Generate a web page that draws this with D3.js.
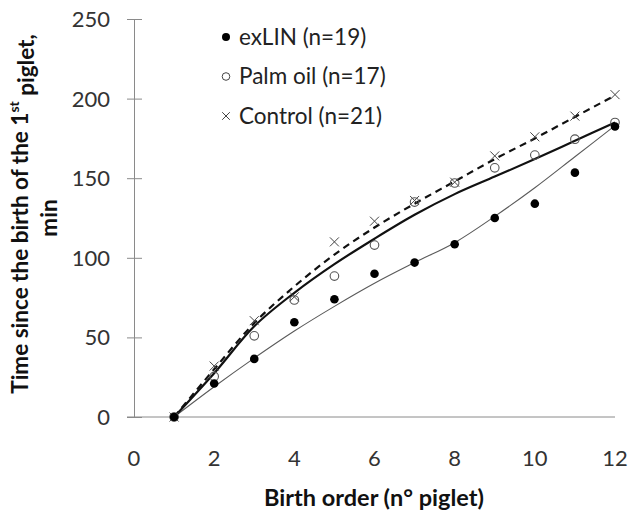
<!DOCTYPE html>
<html>
<head>
<meta charset="utf-8">
<script src="https://cdn.jsdelivr.net/npm/d3@7"></script>
<style>
  html, body { margin: 0; padding: 0; background: #fff; }
  svg { display: block; font-family: Lato, "Open Sans", sans-serif; }
  .tick-label { font-size: 22px; fill: #333; }
  .legend-label { font-size: 22.5px; fill: #222; }
  .axis-title { font-size: 22.5px; font-weight: bold; fill: #111; }
</style>
</head>
<body>
<svg id="chart" width="629" height="511"></svg>
<script>
// ============================================================
// DATA
// ============================================================
const birthOrder = [1, 2, 3, 4, 5, 6, 7, 8, 9, 10, 11, 12];

// observed means
const exLIN   = [0, 21, 36.5, 59.5, 74, 90, 97, 108.5, 125, 134, 153.5, 182.5];
const palmOil = [0, 25.5, 51, 73.5, 88.5, 108, 135, 147, 156.5, 164.5, 174.5, 185];
const control = [0, 32, 60.5, 75.5, 110, 123, 136, 147.5, 164, 176, 189, 202.5];

// fitted curves as drawn in the figure
const exLINFit   = [0, 19, 37, 54, 69.5, 84, 97, 109.5, 126, 144, 163.5, 183];
const palmOilFit = [0, 27.5, 57, 78, 96, 112, 127, 140, 151, 162, 173.5, 185];
const controlFit = [0, 30, 59, 82, 102, 119, 134, 148, 162, 175, 188.5, 202];

const xTicks = [0, 2, 4, 6, 8, 10, 12];
const yTicks = [0, 50, 100, 150, 200, 250];

const legendItems = [
  { label: 'exLIN (n=19)', kind: 'dot' },
  { label: 'Palm oil (n=17)', kind: 'ring' },
  { label: 'Control (n=21)', kind: 'cross' }
];

// ============================================================
// SCALES
// ============================================================
const svg = d3.select('#chart');
const x = d3.scaleLinear().domain([0, 12]).range([134, 615]);
const y = d3.scaleLinear().domain([0, 250]).range([417, 19]);
const axisCol = '#8a8a8a';

// ============================================================
// AXES
// ============================================================
const yAxis = svg.append('g').attr('transform', 'translate(134,0)')
  .call(d3.axisLeft(y).tickValues(yTicks).tickSize(0).tickFormat(''));
yAxis.select('.domain').attr('stroke', axisCol);
yAxis.selectAll('.tick').append('line')
  .attr('x1', -7).attr('x2', 8).attr('stroke', axisCol);

svg.selectAll('.ylab').data(yTicks).enter().append('text')
  .attr('class', 'tick-label')
  .attr('x', 110).attr('y', d => y(d))
  .attr('dy', '0.36em').attr('text-anchor', 'end')
  .text(d => d);

svg.append('line')
  .attr('x1', 127).attr('x2', x(12))
  .attr('y1', y(0)).attr('y2', y(0))
  .attr('stroke', axisCol);

svg.selectAll('.xlab').data(xTicks).enter().append('text')
  .attr('class', 'tick-label')
  .attr('x', d => x(d)).attr('y', 466)
  .attr('text-anchor', 'middle')
  .text(d => d);

svg.append('text').attr('class', 'axis-title')
  .attr('x', 374).attr('y', 506).attr('text-anchor', 'middle')
  .style('font-size', '23.5px')
  .text('Birth order (n\u00b0 piglet)');

const yTitle = svg.append('text').attr('class', 'axis-title')
  .attr('transform', 'translate(28,214) rotate(-90)')
  .attr('text-anchor', 'middle');
yTitle.append('tspan').text('Time since the birth of the 1');
yTitle.append('tspan').attr('font-size', '14px').attr('dy', '-0.65em').text('st');
yTitle.append('tspan').attr('dy', '0.65em').text(' piglet,');

svg.append('text').attr('class', 'axis-title')
  .attr('transform', 'translate(57,218) rotate(-90)')
  .attr('text-anchor', 'middle')
  .text('min');

// ============================================================
// CURVES
// ============================================================
const curve = (vals) => d3.line()
  .x((d, i) => x(birthOrder[i]))
  .y(d => y(d))
  .curve(d3.curveCatmullRom.alpha(0.5))(vals);

svg.append('path').attr('d', curve(exLINFit))
  .attr('fill', 'none').attr('stroke', '#5a5a5a').attr('stroke-width', 1.1);
svg.append('path').attr('d', curve(palmOilFit))
  .attr('fill', 'none').attr('stroke', '#111').attr('stroke-width', 2.2);
svg.append('path').attr('d', curve(controlFit))
  .attr('fill', 'none').attr('stroke', '#111').attr('stroke-width', 2.2)
  .attr('stroke-dasharray', '7,5');

// ============================================================
// MARKERS
// ============================================================
function drawCross(g, cx, cy, s) {
  g.append('path')
    .attr('d', `M${cx - s},${cy - s}L${cx + s},${cy + s}M${cx - s},${cy + s}L${cx + s},${cy - s}`)
    .attr('stroke', '#444').attr('stroke-width', 1).attr('fill', 'none');
}

const marks = svg.append('g');
control.forEach((v, i) => drawCross(marks, x(birthOrder[i]), y(v), 4.5));

marks.selectAll('.ring').data(palmOil).enter().append('circle')
  .attr('cx', (d, i) => x(birthOrder[i])).attr('cy', d => y(d)).attr('r', 4.3)
  .attr('fill', 'none').attr('stroke', '#555').attr('stroke-width', 1.1);

marks.selectAll('.dot').data(exLIN).enter().append('circle')
  .attr('cx', (d, i) => x(birthOrder[i])).attr('cy', d => y(d)).attr('r', 4.3)
  .attr('fill', '#000');

// ============================================================
// LEGEND
// ============================================================
const legend = svg.append('g');
legendItems.forEach((item, i) => {
  const ly = 37 + i * 39.5;
  if (item.kind === 'dot') {
    legend.append('circle').attr('cx', 226).attr('cy', ly).attr('r', 4).attr('fill', '#000');
  } else if (item.kind === 'ring') {
    legend.append('circle').attr('cx', 226).attr('cy', ly).attr('r', 3.8)
      .attr('fill', 'none').attr('stroke', '#444').attr('stroke-width', 1);
  } else {
    drawCross(legend, 226, ly, 3.8);
  }
  legend.append('text').attr('class', 'legend-label')
    .attr('x', 239).attr('y', ly).attr('dy', '0.35em')
    .text(item.label);
});
</script>
</body>
</html>
